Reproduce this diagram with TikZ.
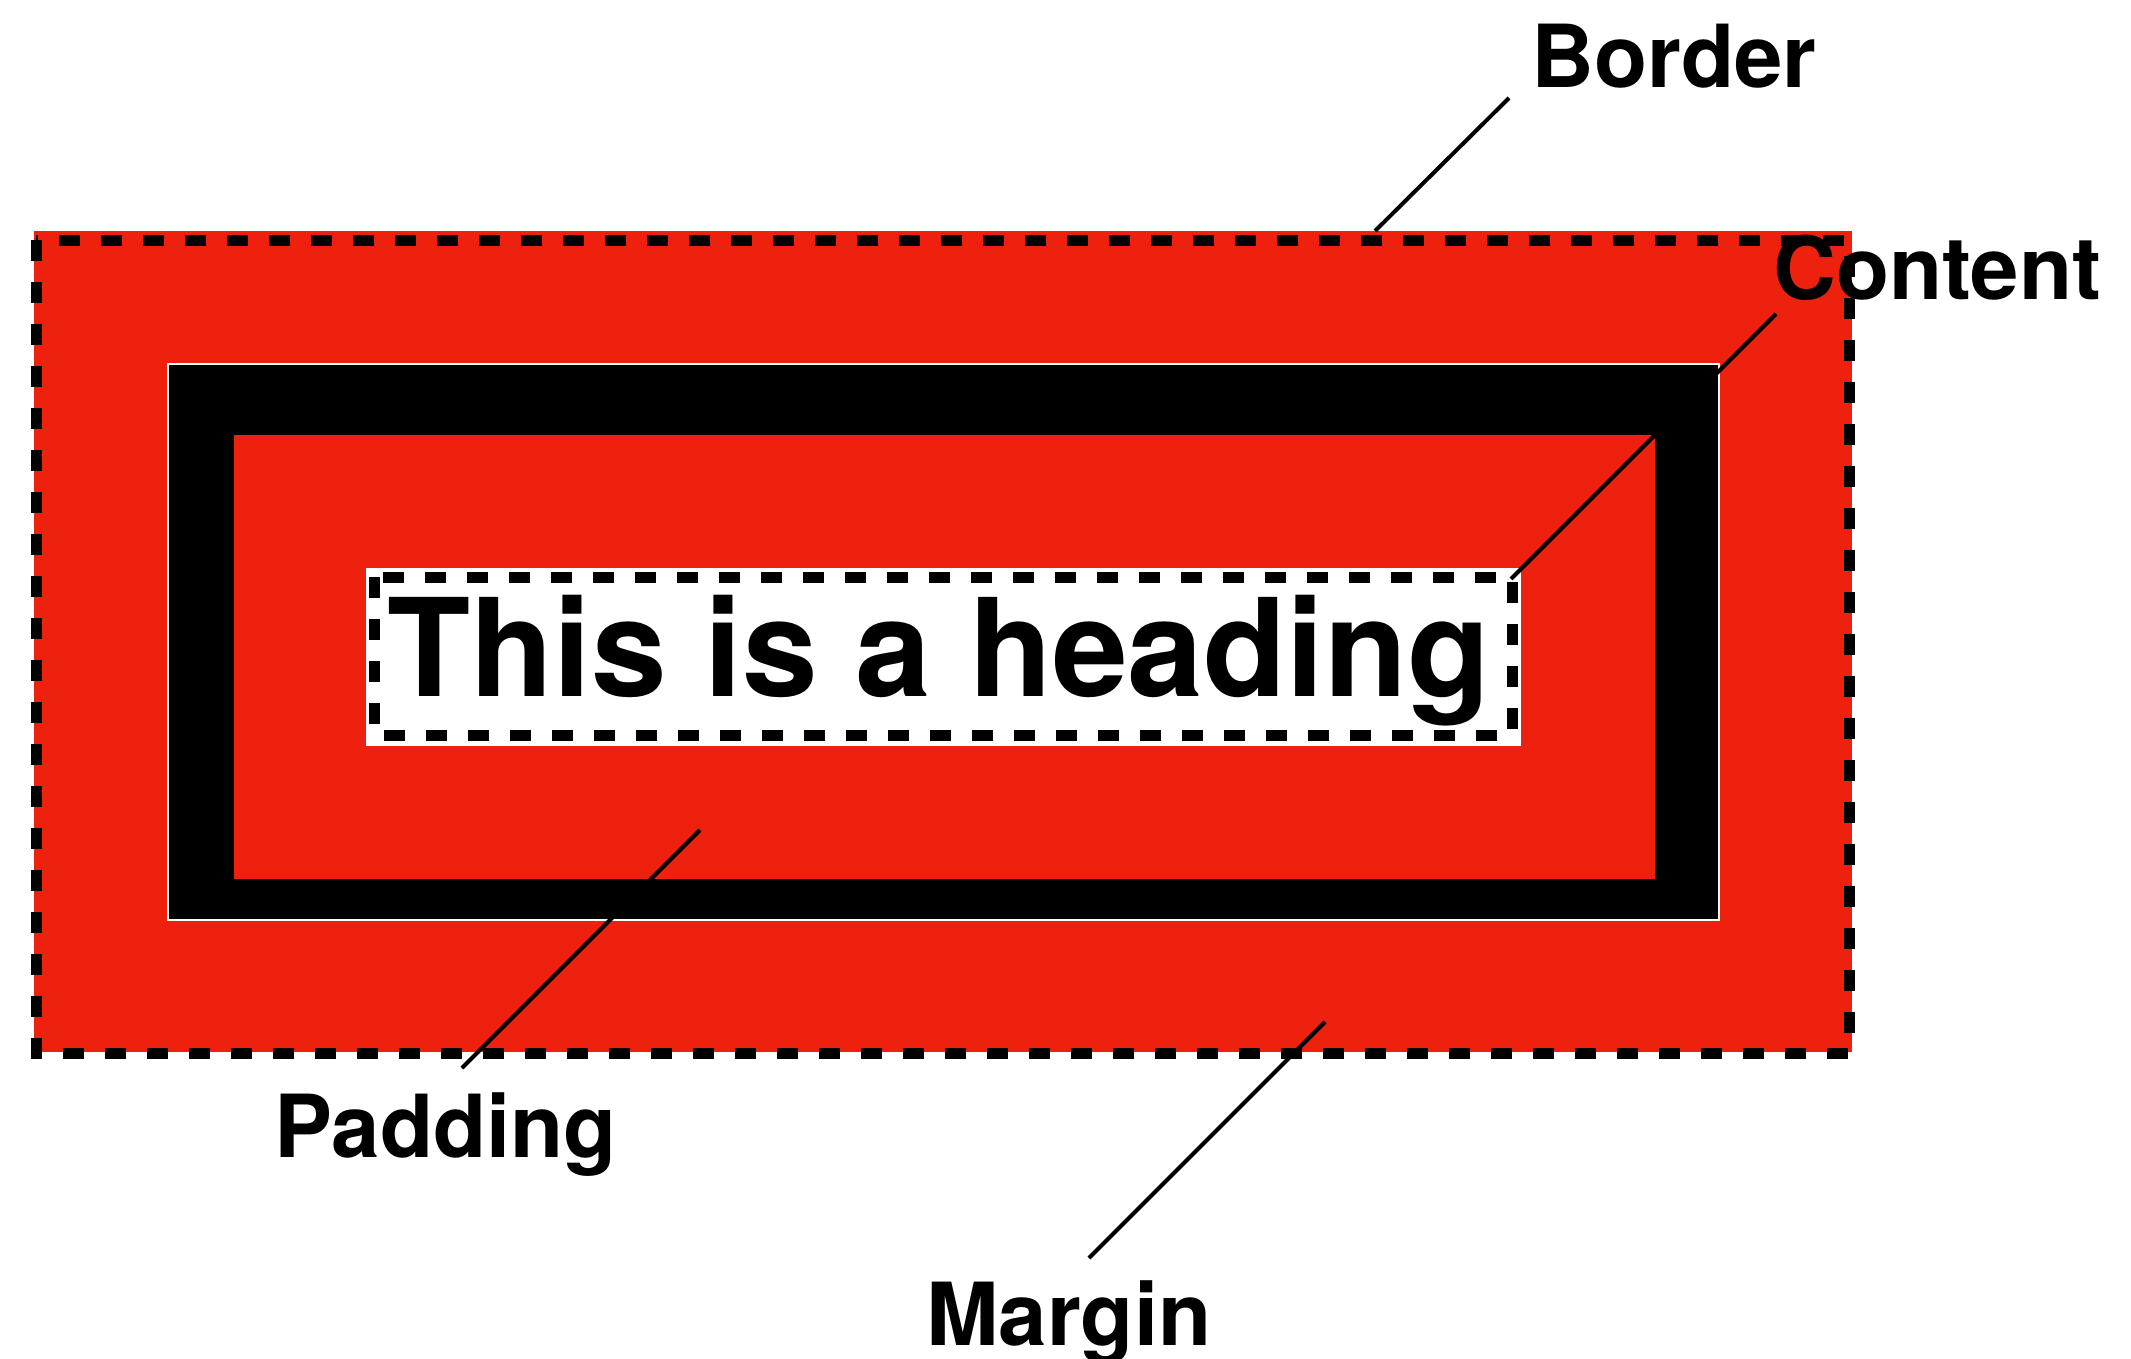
\documentclass[tikz,border=0pt]{standalone}
\usepackage{fontspec}
\setmainfont{TeX Gyre Heros}
\definecolor{boxred}{RGB}{237,33,14}
\begin{document}
\begin{tikzpicture}[x=1pt,y=-1pt,
  lbl/.style={font=\fontsize{87}{100}\selectfont\bfseries, inner sep=0pt, anchor=base west},
  leader/.style={draw=black, line width=4pt},
  dashbox/.style={draw=black, line width=11pt, dash pattern=on 21pt off 21pt}]
\useasboundingbox (0,0) rectangle (2131,1358);
% margin area
\fill[boxred] (34,231) rectangle (1852,1052);
\draw[dashbox] (36,240) rectangle (1849,1053);
% border
\filldraw[fill=black, draw=white, line width=2pt] (168,364) rectangle (1719,920);
% padding
\fill[boxred] (234,435) rectangle (1655,879);
% content
\fill[white] (366,568) rectangle (1521,746);
\draw[dashbox] (374,577) rectangle (1512,735);
\node[font=\fontsize{136}{160}\selectfont\bfseries, inner sep=0pt, anchor=base west] (heading) at (387,696) {This is a heading};
% labels
\node[lbl] (border) at (1531,87) {Border};
\node[lbl] (content) at (1773,299) {Content};
\node[lbl] (padding) at (274,1157) {Padding};
\node[lbl] (margin) at (926,1345) {Margin};
% leader ends
\coordinate (b1) at (1509,98);  \coordinate (b2) at (1375,231);
\coordinate (c1) at (1776,314); \coordinate (c2) at (1511,579);
\coordinate (p1) at (700,830);  \coordinate (p2) at (462,1068);
\coordinate (m1) at (1325,1022); \coordinate (m2) at (1089,1258);
\draw[leader] (b1) -- (b2);
\draw[leader] (c1) -- (c2);
\draw[leader] (p1) -- (p2);
\draw[leader] (m1) -- (m2);
\end{tikzpicture}
\end{document}
